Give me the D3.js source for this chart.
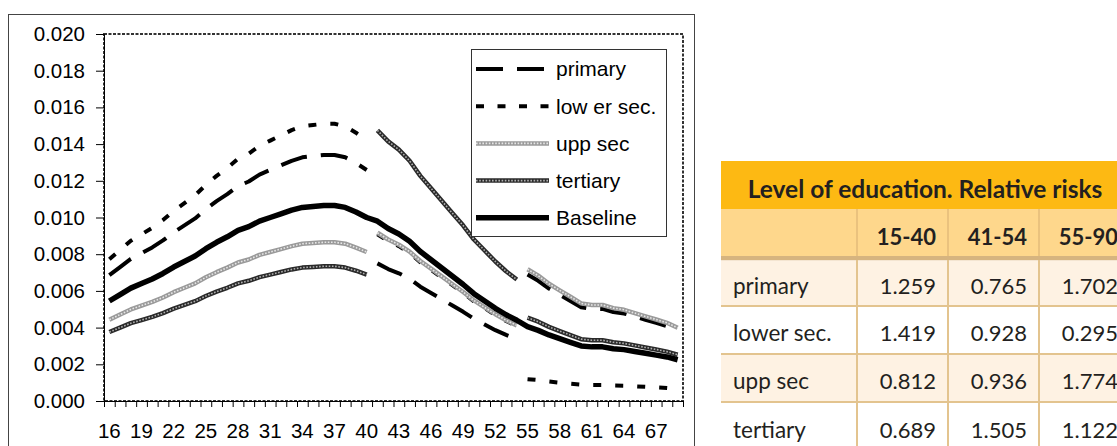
<!DOCTYPE html>
<html><head><meta charset="utf-8">
<script src="https://cdn.jsdelivr.net/npm/d3@7"></script>
<style>body{margin:0;background:#fff}svg{display:block}</style>
</head><body>
<svg id="c" width="1117" height="446"></svg>
<script>
// ---------- data ----------
const ages = [16,17,18,19,20,21,22,23,24,25,26,27,28,29,30,31,32,33,34,35,36,37,38,39,40,
  41,42,43,44,45,46,47,48,49,50,51,52,53,54,55,56,57,58,59,60,61,62,63,64,65,66,67,68,69];
const xLabelAges = [16,19,22,25,28,31,34,37,40,43,46,49,52,55,58,61,64,67];
const yTicks = [0,0.002,0.004,0.006,0.008,0.010,0.012,0.014,0.016,0.018,0.020];
const ageSegments = [[16,40],[41,54],[55,69]];

const baseline = [0.00545,0.00580,0.00615,0.00640,0.00665,0.00695,0.00730,0.00760,0.00790,0.00830,
  0.00865,0.00895,0.00930,0.00950,0.00980,0.01000,0.01020,0.01040,0.01055,0.01060,0.01065,0.01065,
  0.01055,0.01030,0.01000,0.00980,0.00940,0.00910,0.00870,0.00815,0.00770,0.00725,0.00680,0.00635,
  0.00585,0.00545,0.00505,0.00470,0.00440,0.00405,0.00385,0.00360,0.00340,0.00320,0.00300,0.00295,
  0.00295,0.00285,0.00280,0.00270,0.00260,0.00250,0.00240,0.00225];
const primary = [0.00686,0.00730,0.00774,0.00806,0.00837,0.00875,0.00919,0.00957,0.00995,0.01045,
  0.01089,0.01127,0.01171,0.01196,0.01234,0.01259,0.01284,0.01309,0.01328,0.01335,0.01341,0.01341,
  0.01328,0.01297,0.01259,0.00750,0.00719,0.00696,0.00666,0.00623,0.00589,0.00555,0.00520,0.00486,
  0.00448,0.00417,0.00386,0.00360,0.00337,0.00689,0.00655,0.00613,0.00579,0.00545,0.00511,0.00502,
  0.00502,0.00485,0.00477,0.00460,0.00443,0.00426,0.00408,0.00383];
const lowerSec = [0.00773,0.00823,0.00873,0.00908,0.00944,0.00986,0.01036,0.01078,0.01121,0.01178,
  0.01227,0.01270,0.01320,0.01348,0.01391,0.01419,0.01447,0.01476,0.01497,0.01504,0.01511,0.01511,
  0.01497,0.01462,0.01419,0.00909,0.00872,0.00844,0.00807,0.00756,0.00715,0.00673,0.00631,0.00589,
  0.00543,0.00506,0.00469,0.00436,0.00408,0.00119,0.00114,0.00106,0.00100,0.00094,0.00089,0.00087,
  0.00087,0.00084,0.00083,0.00080,0.00077,0.00074,0.00071,0.00066];
const uppSec = [0.00443,0.00471,0.00499,0.00520,0.00540,0.00564,0.00593,0.00617,0.00641,0.00674,
  0.00702,0.00727,0.00755,0.00771,0.00796,0.00812,0.00828,0.00844,0.00857,0.00861,0.00865,0.00865,
  0.00857,0.00836,0.00812,0.00917,0.00880,0.00852,0.00814,0.00763,0.00721,0.00679,0.00636,0.00594,
  0.00548,0.00510,0.00473,0.00440,0.00412,0.00718,0.00683,0.00639,0.00603,0.00568,0.00532,0.00523,
  0.00523,0.00506,0.00497,0.00479,0.00461,0.00444,0.00426,0.00399];
const tertiary = [0.00376,0.00400,0.00424,0.00441,0.00458,0.00479,0.00503,0.00524,0.00544,0.00572,
  0.00596,0.00617,0.00641,0.00655,0.00675,0.00689,0.00703,0.00717,0.00727,0.00730,0.00734,0.00734,
  0.00727,0.00710,0.00689,0.01475,0.01415,0.01370,0.01309,0.01227,0.01159,0.01091,0.01023,0.00956,
  0.00880,0.00820,0.00760,0.00707,0.00662,0.00454,0.00432,0.00404,0.00381,0.00359,0.00337,0.00331,
  0.00331,0.00320,0.00314,0.00303,0.00292,0.00281,0.00269,0.00252];

const seriesNames = ["primary","low er sec.","upp sec","tertiary","Baseline"];

const tableTitle = "Level of education. Relative risks";
const tableColumns = ["15-40","41-54","55-90"];
const tableRows = ["primary","lower sec.","upp sec","tertiary"];
const rrPrimary = ["1.259","0.765","1.702"];
const rrLowerSec = ["1.419","0.928","0.295"];
const rrUppSec = ["0.812","0.936","1.774"];
const rrTertiary = ["0.689","1.505","1.122"];

// ---------- chart ----------
const svg = d3.select("#c");
const FONT = "'Liberation Sans', Arial, sans-serif";
const X0 = 104, X1 = 683, Y0 = 401, Y1 = 34;

// outer chart frame
svg.append("rect").attr("x",8.5).attr("y",14.5).attr("width",686).attr("height",460)
  .attr("fill","#fff").attr("stroke","#444").attr("stroke-width",1);

const x = d3.scaleBand().domain(ages).range([X0,X1]).padding(0);
const xb = d3.scaleLinear().domain([0,ages.length]).range([X0,X1]);
const y = d3.scaleLinear().domain([0,0.02]).range([Y0,Y1]);
const cx = a => x(a) + x.bandwidth()/2;

// plot area dotted border
svg.append("rect").attr("x",X0).attr("y",Y1).attr("width",X1-X0).attr("height",Y0-Y1)
  .attr("fill","none").attr("stroke","#333").attr("stroke-width",2).attr("stroke-dasharray","3,1.5");

// y axis
const gy = svg.append("g").attr("transform",`translate(${X0},0)`)
  .call(d3.axisLeft(y).tickValues(yTicks).tickFormat(d3.format(".3f")).tickSize(8).tickPadding(11));
gy.select(".domain").attr("stroke","#000");
gy.selectAll("text").attr("font-family",FONT).attr("font-size",20.5).attr("fill","#000");

// x axis : minor ticks at category boundaries
const gxt = svg.append("g").attr("transform",`translate(0,${Y0})`)
  .call(d3.axisBottom(xb).tickValues(d3.range(0,ages.length+1)).tickSize(6).tickFormat(""));
gxt.select(".domain").attr("stroke","#000");
// x labels
const gx = svg.append("g").attr("transform",`translate(0,${Y0})`)
  .call(d3.axisBottom(x).tickValues(xLabelAges).tickSize(0).tickPadding(22));
gx.select(".domain").remove();
gx.selectAll("text").attr("font-family",FONT).attr("font-size",20.5).attr("fill","#000");

// series styles
const styles = {
  "primary":   [{stroke:"#000", w:4, dash:"27,14"}],
  "low er sec.":[{stroke:"#000", w:4, dash:"8,14"}],
  "upp sec":   [{stroke:"#9a9a9a", w:4.5, dash:null},{stroke:"#e6e6e6", w:1.6, dash:"1.6,1.6"}],
  "tertiary":  [{stroke:"#2a2a2a", w:4.5, dash:null},{stroke:"#b0b0b0", w:1.6, dash:"1.6,1.6"}],
  "Baseline":  [{stroke:"#000", w:5.5, dash:null}]
};
const seriesValues = [primary, lowerSec, uppSec, tertiary, baseline];
const line = d3.line().x(d=>cx(d.age)).y(d=>y(d.v));

const plot = svg.append("g");
seriesNames.forEach((name,i)=>{
  const vals = seriesValues[i];
  const pts = ages.map((a,j)=>({age:a, v:vals[j]}));
  const segs = name==="Baseline" ? [pts] :
    ageSegments.map(s=>pts.filter(p=>p.age>=s[0] && p.age<=s[1]));
  segs.forEach(seg=>{
    styles[name].forEach(st=>{
      plot.append("path").attr("d",line(seg)).attr("fill","none")
        .attr("stroke",st.stroke).attr("stroke-width",st.w)
        .attr("stroke-dasharray",st.dash).attr("stroke-linejoin","round");
    });
  });
});

// legend
const lg = svg.append("g");
lg.append("rect").attr("x",471.5).attr("y",49.5).attr("width",195).attr("height",187)
  .attr("fill","#fff").attr("stroke","#333").attr("stroke-width",1);
seriesNames.forEach((name,i)=>{
  const ly = 69 + i*37.2;
  styles[name].forEach(st=>{
    lg.append("line").attr("x1",476).attr("x2",549).attr("y1",ly).attr("y2",ly)
      .attr("stroke",st.stroke).attr("stroke-width",st.w)
      .attr("stroke-dasharray", name==="low er sec." ? "8,13.5" : st.dash);
  });
  lg.append("text").attr("x",556).attr("y",ly).attr("dy","0.35em")
    .attr("font-family",FONT).attr("font-size",21).attr("fill","#000").text(name);
});

// ---------- table ----------
const TF = "Lato, 'Open Sans', sans-serif";
const tg = svg.append("g");
const TX0 = 721, TX1 = 1130;
const colRight = [936, 1027, 1118];
const colLines = [857, 948, 1039];
tg.append("rect").attr("x",TX0).attr("y",161).attr("width",TX1-TX0).attr("height",48).attr("fill","#FDB913");
tg.append("text").attr("x",925).attr("y",189).attr("dy","0.36em").attr("text-anchor","middle")
  .attr("font-family",TF).attr("font-weight","bold").attr("font-size",24.5).attr("fill","#231F20").text(tableTitle);
tg.append("rect").attr("x",TX0).attr("y",209).attr("width",TX1-TX0).attr("height",47).attr("fill","#FED78C");
tg.append("rect").attr("x",TX0).attr("y",256).attr("width",TX1-TX0).attr("height",4.5).attr("fill","#D6B47F");
tableColumns.forEach((c,i)=>{
  tg.append("text").attr("x",colRight[i]).attr("y",237).attr("dy","0.36em").attr("text-anchor","end")
    .attr("font-family",TF).attr("font-weight","bold").attr("font-size",22).attr("fill","#231F20").text(c);
});
const rrRows = [rrPrimary, rrLowerSec, rrUppSec, rrTertiary];
const rowTop = [260.5, 306, 354, 402];
const rowH = [45.5, 48, 48, 50];
tableRows.forEach((r,i)=>{
  tg.append("rect").attr("x",TX0).attr("y",rowTop[i]).attr("width",TX1-TX0).attr("height",rowH[i])
    .attr("fill", i%2===0 ? "#FEF2E3" : "#FFFFFF");
  if(i>0) tg.append("line").attr("x1",TX0).attr("x2",TX1).attr("y1",rowTop[i]).attr("y2",rowTop[i])
    .attr("stroke","#E3C48F").attr("stroke-width",2);
  const cyy = rowTop[i] + rowH[i]/2 + 3;
  tg.append("text").attr("x",733).attr("y",cyy).attr("dy","0.36em")
    .attr("font-family",TF).attr("font-size",22.5).attr("fill","#231F20").text(r);
  rrRows[i].forEach((v,j)=>{
    tg.append("text").attr("x",colRight[j]).attr("y",cyy).attr("dy","0.36em").attr("text-anchor","end")
      .attr("font-family",TF).attr("font-size",22).attr("fill","#231F20").text(v);
  });
});
colLines.forEach(cl=>{
  tg.append("line").attr("x1",cl).attr("x2",cl).attr("y1",209).attr("y2",256)
    .attr("stroke","#EAC27E").attr("stroke-width",2);
  tg.append("line").attr("x1",cl).attr("x2",cl).attr("y1",260).attr("y2",450)
    .attr("stroke","#E3C48F").attr("stroke-width",2);
});
</script>
</body></html>
